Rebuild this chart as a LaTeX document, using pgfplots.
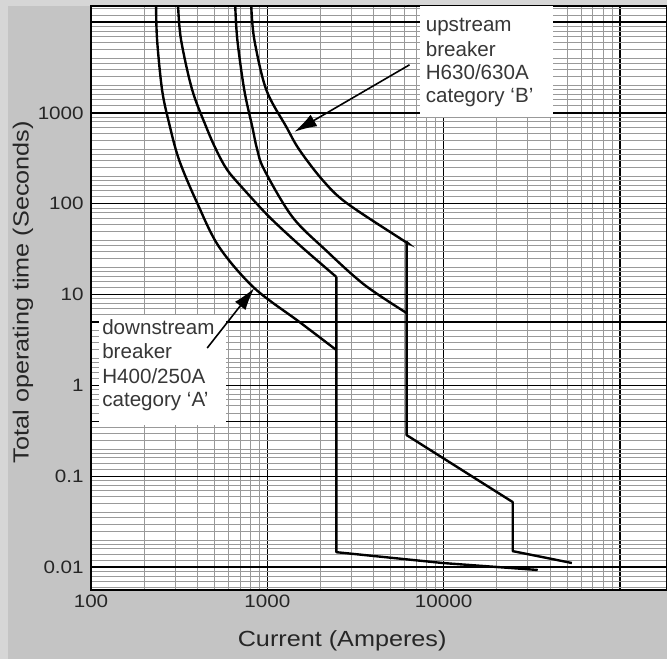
\documentclass[border=0pt]{standalone}
\usepackage{fontspec}
\setmainfont{Liberation Sans}
\newfontfamily\widefont{Liberation Sans}[FakeStretch=1.15]
\usepackage{pgfplots}
\pgfplotsset{compat=1.18}
\usetikzlibrary{arrows.meta}
\definecolor{bgray}{RGB}{196,196,196}
\definecolor{lgray}{RGB}{214,214,214}
\definecolor{txt}{RGB}{55,55,55}
\newcommand{\tickfont}{\widefont\fontsize{13.5}{16}\selectfont}
\newcommand{\labfont}{\widefont\fontsize{16.5}{20}\selectfont}
\newcommand{\annfont}{\fontsize{15.5}{18}\selectfont}

\begin{document}
\begin{tikzpicture}
\fill[bgray] (-68.25bp,-51.75bp) rectangle (432bp,442.5bp);
\fill[lgray] (-68.25bp,-51.75bp) rectangle (-62.25bp,442.5bp);
\fill[lgray] (-68.25bp,438bp) rectangle (432bp,442.5bp);
\useasboundingbox (-68.25bp,-51.75bp) rectangle (432bp,442.5bp);
\begin{axis}[
  at={(0,0)}, anchor=south west,
  scale only axis, width=432bp, height=438bp,
  xmode=log, ymode=log,
  xmin=100, xmax=185000, ymin=0.0056, ymax=15000,
  axis background/.style={fill=white},
  axis line style={black, line width=1.4pt},
  xtick={100,1000,10000,100000},
  xticklabels={100,1000,10000,},
  ytick={0.01,0.1,1,10,100,1000,10000},
  yticklabels={0.01,0.1,1,10,100,1000,},
  minor ytick={6e-3,7e-3,8e-3,9e-3,
    0.012,0.014,0.016,0.018,0.02,0.025,0.03,0.035,0.04,0.05,0.06,0.07,0.08,0.09,
    0.12,0.14,0.16,0.18,0.2,0.25,0.3,0.35,0.4,0.5,0.6,0.7,0.8,0.9,
    1.2,1.4,1.6,1.8,2,2.5,3,3.5,4,5,6,7,8,9,
    12,14,16,18,20,25,30,35,40,50,60,70,80,90,
    120,140,160,180,200,250,300,350,400,500,600,700,800,900,
    1200,1400,1600,1800,2000,2500,3000,3500,4000,5000,6000,7000,8000,9000,
    12000,14000},
  minor xtick={200,300,400,500,600,700,800,900,
    2000,3000,4000,5000,6000,7000,8000,9000,
    20000,30000,40000,50000,60000,70000,80000,90000},
  grid=both,
  major grid style={black, line width=1.0pt},
  minor grid style={black!40, line width=0.35pt},
  major tick length=0pt, minor tick length=0pt,
  extra y ticks={5,0.4},
  extra y tick labels={},
  extra y tick style={grid=major, major grid style={black, line width=1.3pt}},
  /pgf/number format/assume math mode=true,
  ticklabel style={font=\tickfont, text=black!85},
  yticklabel style={xshift=-2bp},
  xlabel={Current (Amperes)},
  ylabel={Total operating time (Seconds)},
  xlabel style={font=\labfont, text=black!85, at={(axis description cs:0.436,-0.087)}, anchor=center},
  ylabel style={font=\labfont, text=black!85, at={(axis description cs:-0.118,0.51)}, anchor=center, rotate=0},
  clip=true,
]
% downstream breaker H400/250A, lower (minimum) curve
\addplot[black, line width=1.8pt, smooth, tension=0.55] coordinates {
 (234,15000) (237,6400) (253,1790) (277,776) (316,303) (400,102)
 (533,33.4) (844,11.8) (1520,5.0) (2466,2.45)};
% downstream breaker, upper curve
\addplot[black, line width=1.8pt, smooth, tension=0.55] coordinates {
 (312,15000) (324,6400) (375,1790) (450,701) (513,392) (593,235)
 (740,142) (1026,71.6) (1520,35.2) (2466,15.6)};
\addplot[black, line width=1.8pt, line join=round] coordinates {
 (2466,15.6) (2466,0.0146) (9860,0.0111) (34200,0.0093)};
% upstream breaker H630/630A, lower curve
\addplot[black, line width=1.8pt, smooth, tension=0.55] coordinates {
 (658,15000) (676,6400) (740,1790) (822,701) (877,392) (962,235)
 (1387,71.6) (2138,31.0) (3556,12.8) (6166,6.27)};
% upstream breaker, upper curve
\addplot[black, line width=1.8pt, smooth, tension=0.55] coordinates {
 (811,15000) (844,6400) (987,1790) (1282,701) (1520,392) (2054,183)
 (2812,102) (5851,39.9) (6166,37.9)};
\addplot[black, line width=1.8pt, line join=round] coordinates {
 (6166,37.9) (6166,0.284) (24660,0.052) (24660,0.0150) (53400,0.0111)};

% annotation boxes
\fill[white] (axis cs:7310,15000) rectangle (axis cs:41600,904);
\fill[white] (axis cs:111,5.96) rectangle (axis cs:585,0.366);
\node[anchor=base west, inner sep=0, text=txt, font=\annfont] at (axis cs:7900,7800) {upstream};
\node[anchor=base west, inner sep=0, text=txt, font=\annfont] at (axis cs:7900,4140) {breaker};
\node[anchor=base west, inner sep=0, text=txt, font=\annfont] at (axis cs:7900,2307) {H630/630A};
\node[anchor=base west, inner sep=0, text=txt, font=\annfont] at (axis cs:7900,1288) {category `B'};
\node[anchor=base west, inner sep=0, text=txt, font=\annfont] at (axis cs:115.5,3.59) {downstream};
\node[anchor=base west, inner sep=0, text=txt, font=\annfont] at (axis cs:115.5,2.00) {breaker};
\node[anchor=base west, inner sep=0, text=txt, font=\annfont] at (axis cs:115.5,1.063) {H400/250A};
\node[anchor=base west, inner sep=0, text=txt, font=\annfont] at (axis cs:115.5,0.593) {category `A'};
% arrows
\draw[black, line width=1.2pt, -{Latex[length=17bp, width=10bp]}] (axis cs:6410,3380) -- (axis cs:1423,618);
\draw[black, line width=1.2pt, -{Latex[length=17bp, width=10bp]}] (axis cs:456,2.58) -- (axis cs:844,11.8);
\end{axis}
\end{tikzpicture}
\end{document}
